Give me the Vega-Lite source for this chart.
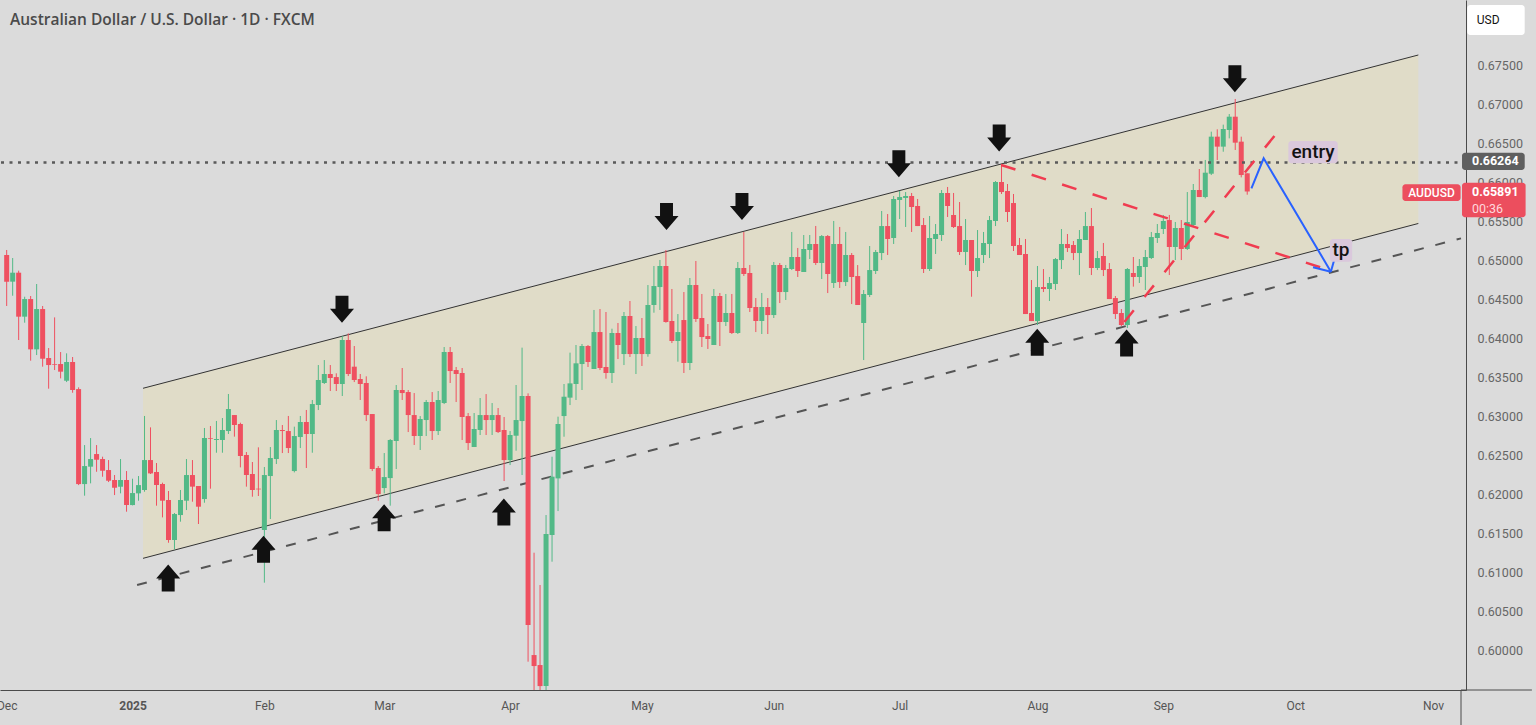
{
  "$schema": "https://vega.github.io/schema/vega-lite/v6.json",
  "width": 1466,
  "height": 690,
  "autosize": {"type": "none"},
  "padding": {"left": 0, "top": 0, "right": 70, "bottom": 35},
  "background": "#dbdbdb",
  "config": {"view": {"stroke": null}},
  "title": {"text": "Australian Dollar / U.S. Dollar · 1D · FXCM", "anchor": "start", "frame": "group", "orient": "top", "offset": -28, "dx": 10, "font": "Open Sans", "fontSize": 15.5, "fontWeight": 600, "color": "#4a4a4a"},
  "datasets": {
    "candles": [
      {"i":0,"o":0.65076,"h":0.65141,"l":0.64423,"c":0.64735},
      {"i":1,"o":0.64735,"h":0.65038,"l":0.64555,"c":0.64850},
      {"i":2,"o":0.64850,"h":0.64876,"l":0.63987,"c":0.64286},
      {"i":3,"o":0.64286,"h":0.64542,"l":0.64209,"c":0.64512},
      {"i":4,"o":0.64512,"h":0.64551,"l":0.63722,"c":0.63867},
      {"i":5,"o":0.63867,"h":0.64705,"l":0.63794,"c":0.64384},
      {"i":6,"o":0.64384,"h":0.64423,"l":0.63645,"c":0.63747},
      {"i":7,"o":0.63756,"h":0.63884,"l":0.63363,"c":0.63666},
      {"i":8,"o":0.63679,"h":0.64277,"l":0.63602,"c":0.63670},
      {"i":9,"o":0.63679,"h":0.63833,"l":0.63495,"c":0.63581},
      {"i":10,"o":0.63465,"h":0.63816,"l":0.63448,"c":0.63705},
      {"i":11,"o":0.63705,"h":0.63769,"l":0.63311,"c":0.63346},
      {"i":12,"o":0.63358,"h":0.63380,"l":0.62127,"c":0.62140},
      {"i":13,"o":0.62140,"h":0.62640,"l":0.61991,"c":0.62371},
      {"i":14,"o":0.62363,"h":0.62730,"l":0.62149,"c":0.62461},
      {"i":15,"o":0.62525,"h":0.62640,"l":0.62298,"c":0.62452},
      {"i":16,"o":0.62461,"h":0.62491,"l":0.62234,"c":0.62311},
      {"i":17,"o":0.62320,"h":0.62448,"l":0.62166,"c":0.62183},
      {"i":18,"o":0.62192,"h":0.62256,"l":0.61999,"c":0.62093},
      {"i":19,"o":0.62106,"h":0.62461,"l":0.62021,"c":0.62192},
      {"i":20,"o":0.62192,"h":0.62307,"l":0.61786,"c":0.61871},
      {"i":21,"o":0.61871,"h":0.62209,"l":0.61867,"c":0.62025},
      {"i":22,"o":0.62021,"h":0.62243,"l":0.61927,"c":0.62127},
      {"i":23,"o":0.62064,"h":0.63013,"l":0.62042,"c":0.62448},
      {"i":24,"o":0.62448,"h":0.62867,"l":0.62269,"c":0.62277},
      {"i":25,"o":0.62295,"h":0.62410,"l":0.61863,"c":0.62128},
      {"i":26,"o":0.62141,"h":0.62158,"l":0.61713,"c":0.61927},
      {"i":27,"o":0.61936,"h":0.62051,"l":0.61388,"c":0.61423},
      {"i":28,"o":0.61423,"h":0.61769,"l":0.61303,"c":0.61756},
      {"i":29,"o":0.61743,"h":0.62064,"l":0.61658,"c":0.61936},
      {"i":30,"o":0.61927,"h":0.62461,"l":0.61807,"c":0.62256},
      {"i":31,"o":0.62256,"h":0.62448,"l":0.61914,"c":0.62107},
      {"i":32,"o":0.62115,"h":0.62115,"l":0.61628,"c":0.61850},
      {"i":33,"o":0.61948,"h":0.62859,"l":0.61901,"c":0.62731},
      {"i":34,"o":0.62731,"h":0.62884,"l":0.62081,"c":0.62722},
      {"i":35,"o":0.62705,"h":0.62949,"l":0.62542,"c":0.62718},
      {"i":36,"o":0.62705,"h":0.62987,"l":0.62542,"c":0.62833},
      {"i":37,"o":0.62820,"h":0.63295,"l":0.62782,"c":0.63102},
      {"i":38,"o":0.63025,"h":0.63025,"l":0.62748,"c":0.62897},
      {"i":39,"o":0.62910,"h":0.62927,"l":0.62354,"c":0.62500},
      {"i":40,"o":0.62513,"h":0.62551,"l":0.62107,"c":0.62256},
      {"i":41,"o":0.62269,"h":0.62423,"l":0.61978,"c":0.62064},
      {"i":42,"o":0.62081,"h":0.62611,"l":0.61987,"c":0.62072},
      {"i":43,"o":0.61551,"h":0.62359,"l":0.60876,"c":0.62256},
      {"i":44,"o":0.62243,"h":0.62615,"l":0.61692,"c":0.62474},
      {"i":45,"o":0.62461,"h":0.62961,"l":0.62397,"c":0.62833},
      {"i":46,"o":0.62833,"h":0.62897,"l":0.62538,"c":0.62820},
      {"i":47,"o":0.62820,"h":0.63013,"l":0.62538,"c":0.62602},
      {"i":48,"o":0.62307,"h":0.62876,"l":0.62290,"c":0.62756},
      {"i":49,"o":0.62743,"h":0.63013,"l":0.62602,"c":0.62936},
      {"i":50,"o":0.62936,"h":0.63090,"l":0.62346,"c":0.62782},
      {"i":51,"o":0.62782,"h":0.63218,"l":0.62542,"c":0.63166},
      {"i":52,"o":0.63154,"h":0.63666,"l":0.63089,"c":0.63474},
      {"i":53,"o":0.63436,"h":0.63730,"l":0.63423,"c":0.63551},
      {"i":54,"o":0.63551,"h":0.63666,"l":0.63333,"c":0.63500},
      {"i":55,"o":0.63512,"h":0.63560,"l":0.63333,"c":0.63423},
      {"i":56,"o":0.63423,"h":0.64038,"l":0.63269,"c":0.63987},
      {"i":57,"o":0.63987,"h":0.64072,"l":0.63525,"c":0.63551},
      {"i":58,"o":0.63645,"h":0.63910,"l":0.63448,"c":0.63474},
      {"i":59,"o":0.63487,"h":0.63551,"l":0.63218,"c":0.63423},
      {"i":60,"o":0.63436,"h":0.63521,"l":0.62948,"c":0.63025},
      {"i":61,"o":0.63038,"h":0.63038,"l":0.62307,"c":0.62333},
      {"i":62,"o":0.62346,"h":0.62371,"l":0.61927,"c":0.62012},
      {"i":63,"o":0.62089,"h":0.62538,"l":0.62021,"c":0.62230},
      {"i":64,"o":0.62217,"h":0.62717,"l":0.61863,"c":0.62705},
      {"i":65,"o":0.62692,"h":0.63410,"l":0.62333,"c":0.63346},
      {"i":66,"o":0.63346,"h":0.63628,"l":0.63218,"c":0.63307},
      {"i":67,"o":0.63320,"h":0.63346,"l":0.62807,"c":0.63025},
      {"i":68,"o":0.63025,"h":0.63307,"l":0.62641,"c":0.62756},
      {"i":69,"o":0.62756,"h":0.63012,"l":0.62577,"c":0.62974},
      {"i":70,"o":0.62961,"h":0.63218,"l":0.62756,"c":0.63192},
      {"i":71,"o":0.63192,"h":0.63320,"l":0.62705,"c":0.62820},
      {"i":72,"o":0.62820,"h":0.63333,"l":0.62769,"c":0.63218},
      {"i":73,"o":0.63179,"h":0.63897,"l":0.63166,"c":0.63833},
      {"i":74,"o":0.63833,"h":0.63897,"l":0.63436,"c":0.63589},
      {"i":75,"o":0.63602,"h":0.63641,"l":0.63192,"c":0.63551},
      {"i":76,"o":0.63564,"h":0.63628,"l":0.62705,"c":0.63000},
      {"i":77,"o":0.63012,"h":0.63051,"l":0.62577,"c":0.62666},
      {"i":78,"o":0.62615,"h":0.63051,"l":0.62615,"c":0.62846},
      {"i":79,"o":0.62833,"h":0.63243,"l":0.62769,"c":0.63025},
      {"i":80,"o":0.63025,"h":0.63294,"l":0.62769,"c":0.62961},
      {"i":81,"o":0.62961,"h":0.63179,"l":0.62769,"c":0.63025},
      {"i":82,"o":0.63025,"h":0.63115,"l":0.62795,"c":0.62807},
      {"i":83,"o":0.62833,"h":0.63000,"l":0.62179,"c":0.62448},
      {"i":84,"o":0.62448,"h":0.62820,"l":0.62384,"c":0.62769},
      {"i":85,"o":0.62760,"h":0.63410,"l":0.62568,"c":0.62961},
      {"i":86,"o":0.62948,"h":0.63889,"l":0.62256,"c":0.63269},
      {"i":87,"o":0.63269,"h":0.63303,"l":0.59863,"c":0.60333},
      {"i":88,"o":0.59948,"h":0.61260,"l":0.59300,"c":0.59807},
      {"i":89,"o":0.59820,"h":0.60846,"l":0.59140,"c":0.59550},
      {"i":90,"o":0.59550,"h":0.61743,"l":0.59250,"c":0.61499},
      {"i":91,"o":0.61487,"h":0.62491,"l":0.61145,"c":0.62235},
      {"i":92,"o":0.62213,"h":0.63004,"l":0.61794,"c":0.62910},
      {"i":93,"o":0.63012,"h":0.63423,"l":0.62747,"c":0.63260},
      {"i":94,"o":0.63248,"h":0.63825,"l":0.63153,"c":0.63431},
      {"i":95,"o":0.63423,"h":0.63923,"l":0.63218,"c":0.63688},
      {"i":96,"o":0.63679,"h":0.63936,"l":0.63346,"c":0.63910},
      {"i":97,"o":0.63910,"h":0.63923,"l":0.63641,"c":0.63705},
      {"i":98,"o":0.63615,"h":0.64372,"l":0.63615,"c":0.64089},
      {"i":99,"o":0.64089,"h":0.64384,"l":0.63602,"c":0.63628},
      {"i":100,"o":0.63641,"h":0.64346,"l":0.63491,"c":0.63564},
      {"i":101,"o":0.63564,"h":0.64132,"l":0.63436,"c":0.64077},
      {"i":102,"o":0.64077,"h":0.64205,"l":0.63743,"c":0.63923},
      {"i":103,"o":0.63807,"h":0.64346,"l":0.63666,"c":0.64295},
      {"i":104,"o":0.64295,"h":0.64487,"l":0.63769,"c":0.63807},
      {"i":105,"o":0.63807,"h":0.64166,"l":0.63551,"c":0.64013},
      {"i":106,"o":0.64013,"h":0.64269,"l":0.63654,"c":0.63807},
      {"i":107,"o":0.63807,"h":0.64692,"l":0.63773,"c":0.64436},
      {"i":108,"o":0.64436,"h":0.64936,"l":0.64337,"c":0.64679},
      {"i":109,"o":0.64666,"h":0.65013,"l":0.64372,"c":0.64936},
      {"i":110,"o":0.64936,"h":0.65141,"l":0.64209,"c":0.64218},
      {"i":111,"o":0.64231,"h":0.64641,"l":0.63948,"c":0.63974},
      {"i":112,"o":0.63974,"h":0.64320,"l":0.63709,"c":0.64089},
      {"i":113,"o":0.64243,"h":0.64602,"l":0.63564,"c":0.63692},
      {"i":114,"o":0.63692,"h":0.64782,"l":0.63602,"c":0.64692},
      {"i":115,"o":0.64692,"h":0.65000,"l":0.64218,"c":0.64256},
      {"i":116,"o":0.64269,"h":0.64577,"l":0.63897,"c":0.64025},
      {"i":117,"o":0.64038,"h":0.64192,"l":0.63872,"c":0.64000},
      {"i":118,"o":0.63923,"h":0.64641,"l":0.63923,"c":0.64551},
      {"i":119,"o":0.64551,"h":0.64590,"l":0.63910,"c":0.64218},
      {"i":120,"o":0.64218,"h":0.64577,"l":0.64166,"c":0.64333},
      {"i":121,"o":0.64333,"h":0.64577,"l":0.64064,"c":0.64077},
      {"i":122,"o":0.64077,"h":0.64987,"l":0.64064,"c":0.64910},
      {"i":123,"o":0.64910,"h":0.65372,"l":0.64808,"c":0.64833},
      {"i":124,"o":0.64846,"h":0.64949,"l":0.64346,"c":0.64397},
      {"i":125,"o":0.64410,"h":0.64525,"l":0.64089,"c":0.64231},
      {"i":126,"o":0.64231,"h":0.64590,"l":0.64064,"c":0.64410},
      {"i":127,"o":0.64410,"h":0.64525,"l":0.64064,"c":0.64307},
      {"i":128,"o":0.64307,"h":0.64987,"l":0.64269,"c":0.64949},
      {"i":129,"o":0.64949,"h":0.64974,"l":0.64461,"c":0.64602},
      {"i":130,"o":0.64602,"h":0.64949,"l":0.64500,"c":0.64910},
      {"i":131,"o":0.64897,"h":0.65372,"l":0.64884,"c":0.65051},
      {"i":132,"o":0.65051,"h":0.65167,"l":0.64795,"c":0.64872},
      {"i":133,"o":0.64859,"h":0.65333,"l":0.64859,"c":0.65154},
      {"i":134,"o":0.65141,"h":0.65333,"l":0.65025,"c":0.65218},
      {"i":135,"o":0.65218,"h":0.65449,"l":0.64949,"c":0.64974},
      {"i":136,"o":0.64974,"h":0.65333,"l":0.64769,"c":0.65320},
      {"i":137,"o":0.65320,"h":0.65333,"l":0.64589,"c":0.64833},
      {"i":138,"o":0.64718,"h":0.65513,"l":0.64654,"c":0.65218},
      {"i":139,"o":0.65218,"h":0.65436,"l":0.64654,"c":0.64730},
      {"i":140,"o":0.64730,"h":0.65372,"l":0.64679,"c":0.65077},
      {"i":141,"o":0.65077,"h":0.65102,"l":0.64448,"c":0.64795},
      {"i":142,"o":0.64807,"h":0.64948,"l":0.64436,"c":0.64436},
      {"i":143,"o":0.64205,"h":0.64628,"l":0.63730,"c":0.64577},
      {"i":144,"o":0.64564,"h":0.65192,"l":0.64538,"c":0.64884},
      {"i":145,"o":0.64872,"h":0.65141,"l":0.64833,"c":0.65115},
      {"i":146,"o":0.65102,"h":0.65641,"l":0.65012,"c":0.65448},
      {"i":147,"o":0.65448,"h":0.65602,"l":0.65077,"c":0.65282},
      {"i":148,"o":0.65295,"h":0.65833,"l":0.65218,"c":0.65795},
      {"i":149,"o":0.65782,"h":0.65897,"l":0.65538,"c":0.65820},
      {"i":150,"o":0.65808,"h":0.65884,"l":0.65436,"c":0.65833},
      {"i":151,"o":0.65833,"h":0.65872,"l":0.65372,"c":0.65692},
      {"i":152,"o":0.65705,"h":0.65795,"l":0.65448,"c":0.65448},
      {"i":153,"o":0.65461,"h":0.65551,"l":0.64846,"c":0.64897},
      {"i":154,"o":0.64897,"h":0.65577,"l":0.64872,"c":0.65295},
      {"i":155,"o":0.65282,"h":0.65474,"l":0.65090,"c":0.65346},
      {"i":156,"o":0.65333,"h":0.65910,"l":0.65256,"c":0.65872},
      {"i":157,"o":0.65872,"h":0.65949,"l":0.65564,"c":0.65705},
      {"i":158,"o":0.65590,"h":0.65872,"l":0.65423,"c":0.65436},
      {"i":159,"o":0.65448,"h":0.65756,"l":0.65077,"c":0.65115},
      {"i":160,"o":0.65115,"h":0.65538,"l":0.64948,"c":0.65269},
      {"i":161,"o":0.65269,"h":0.65269,"l":0.64542,"c":0.64872},
      {"i":162,"o":0.64872,"h":0.65397,"l":0.64795,"c":0.65038},
      {"i":163,"o":0.65077,"h":0.65372,"l":0.64974,"c":0.65231},
      {"i":164,"o":0.65218,"h":0.65577,"l":0.65038,"c":0.65525},
      {"i":165,"o":0.65513,"h":0.66025,"l":0.65448,"c":0.66013},
      {"i":166,"o":0.66013,"h":0.66243,"l":0.65859,"c":0.65884},
      {"i":167,"o":0.65897,"h":0.65987,"l":0.65500,"c":0.65628},
      {"i":168,"o":0.65743,"h":0.65859,"l":0.65128,"c":0.65192},
      {"i":169,"o":0.65205,"h":0.65295,"l":0.65077,"c":0.65077},
      {"i":170,"o":0.65090,"h":0.65282,"l":0.64320,"c":0.64320},
      {"i":171,"o":0.64333,"h":0.64756,"l":0.64230,"c":0.64230},
      {"i":172,"o":0.64230,"h":0.64936,"l":0.64179,"c":0.64666},
      {"i":173,"o":0.64666,"h":0.64897,"l":0.64602,"c":0.64641},
      {"i":174,"o":0.64641,"h":0.64795,"l":0.64487,"c":0.64718},
      {"i":175,"o":0.64705,"h":0.65038,"l":0.64628,"c":0.65025},
      {"i":176,"o":0.65012,"h":0.65410,"l":0.64897,"c":0.65218},
      {"i":177,"o":0.65218,"h":0.65346,"l":0.65115,"c":0.65166},
      {"i":178,"o":0.65205,"h":0.65256,"l":0.65012,"c":0.65102},
      {"i":179,"o":0.65102,"h":0.65397,"l":0.64820,"c":0.65282},
      {"i":180,"o":0.65269,"h":0.65628,"l":0.65269,"c":0.65448},
      {"i":181,"o":0.65448,"h":0.65679,"l":0.64820,"c":0.64910},
      {"i":182,"o":0.64910,"h":0.65128,"l":0.64884,"c":0.65038},
      {"i":183,"o":0.65064,"h":0.65231,"l":0.64807,"c":0.64884},
      {"i":184,"o":0.64897,"h":0.64974,"l":0.64512,"c":0.64512},
      {"i":185,"o":0.64525,"h":0.64551,"l":0.64256,"c":0.64320},
      {"i":186,"o":0.64333,"h":0.64384,"l":0.64166,"c":0.64179},
      {"i":187,"o":0.64179,"h":0.64910,"l":0.64141,"c":0.64897},
      {"i":188,"o":0.64846,"h":0.65051,"l":0.64671,"c":0.64795},
      {"i":189,"o":0.64795,"h":0.65025,"l":0.64718,"c":0.64936},
      {"i":190,"o":0.64923,"h":0.65141,"l":0.64628,"c":0.65051},
      {"i":191,"o":0.65038,"h":0.65372,"l":0.65025,"c":0.65307},
      {"i":192,"o":0.65295,"h":0.65474,"l":0.65231,"c":0.65359},
      {"i":193,"o":0.65410,"h":0.65590,"l":0.65346,"c":0.65513},
      {"i":194,"o":0.65525,"h":0.65590,"l":0.64820,"c":0.65179},
      {"i":195,"o":0.65179,"h":0.65500,"l":0.65012,"c":0.65423},
      {"i":196,"o":0.65423,"h":0.65525,"l":0.65012,"c":0.65154},
      {"i":197,"o":0.65154,"h":0.65884,"l":0.65141,"c":0.65500},
      {"i":198,"o":0.65461,"h":0.65987,"l":0.65448,"c":0.65910},
      {"i":199,"o":0.65910,"h":0.66179,"l":0.65820,"c":0.65820},
      {"i":200,"o":0.65820,"h":0.66295,"l":0.65803,"c":0.66132},
      {"i":201,"o":0.66119,"h":0.66658,"l":0.66102,"c":0.66594},
      {"i":202,"o":0.66594,"h":0.66688,"l":0.66295,"c":0.66466},
      {"i":203,"o":0.66466,"h":0.66748,"l":0.66401,"c":0.66692},
      {"i":204,"o":0.66679,"h":0.66884,"l":0.66572,"c":0.66850},
      {"i":205,"o":0.66850,"h":0.67077,"l":0.66423,"c":0.66517},
      {"i":206,"o":0.66530,"h":0.66594,"l":0.66072,"c":0.66102},
      {"i":207,"o":0.66124,"h":0.66124,"l":0.65850,"c":0.65891}
    ],
    "channel": [
      {"i":22.75,"lo":0.61188,"hi":0.63368},
      {"i":235.55,"lo":0.65481,"hi":0.67641}
    ],
    "support": [
      {"i":21.76,"p":0.60846},
      {"i":242.67,"p":0.65290}
    ],
    "levels": [{"p":0.66264}],
    "trend": [
      {"g":"fall","i":165.94,"p":0.66231},
      {"g":"fall","i":220.63,"p":0.64884},
      {"g":"rise","i":186.5,"p":0.64218},
      {"g":"rise","i":212.2,"p":0.66667}
    ],
    "plan": [
      {"k":0,"i":207.7,"p":0.65932},
      {"k":1,"i":209.74,"p":0.66317},
      {"k":2,"i":220.96,"p":0.64863}
    ],
    "planHead": [
      {"i":220.96,"p":0.64863,"i2":217.98,"p2":0.64919},
      {"i":220.96,"p":0.64863,"i2":221.79,"p2":0.65090}
    ],
    "pivots": [
      {"dir":"up","i":26.95,"p":0.60936},
      {"dir":"up","i":42.86,"p":0.61305},
      {"dir":"up","i":62.98,"p":0.61708},
      {"dir":"up","i":82.96,"p":0.61782},
      {"dir":"up","i":171.96,"p":0.63959},
      {"dir":"up","i":186.87,"p":0.63949},
      {"dir":"down","i":55.95,"p":0.64382},
      {"dir":"down","i":110.1,"p":0.65570},
      {"dir":"down","i":122.69,"p":0.65699},
      {"dir":"down","i":148.87,"p":0.66246},
      {"dir":"down","i":165.61,"p":0.66577},
      {"dir":"down","i":204.94,"p":0.67336}
    ],
    "boxes": [
      {"kind":"note","i":213.86,"i2":222.1,"p":0.66538,"p2":0.66252},
      {"kind":"note","i":220.8,"i2":224.5,"p":0.65282,"p2":0.64991},
      {"kind":"symbol","i":232.9,"i2":242.6,"p":0.65983,"p2":0.65770},
      {"kind":"last","i":242.84,"i2":253.45,"p":0.66004,"p2":0.65560},
      {"kind":"level","i":242.84,"i2":253.3,"p":0.66389,"p2":0.66167},
      {"kind":"unit","i":243.7,"i2":253.3,"p":0.68282,"p2":0.67897}
    ],
    "notes": [
      {"t":"entry","i":217.98,"p":0.66395},
      {"t":"tp","i":222.65,"p":0.65137}
    ],
    "priceTags": [
      {"t":"0.66264","i":244.5,"p":0.66278},
      {"t":"0.65891","i":244.5,"p":0.65880}
    ],
    "timer": [{"t":"00:36","i":244.5,"p":0.65672}],
    "symbol": [{"t":"AUDUSD","i":237.75,"p":0.65876}],
    "unit": [{"t":"USD","i":245.3,"p":0.68090}],
    "frame": [
      {"i":242.67,"p":0.595,"i2":242.67,"p2":0.5905},
      {"i":242.67,"p":0.595,"i2":254.5,"p2":0.595}
    ]
  },
  "layer": [
    {
      "data": {"name": "channel"},
      "mark": {"type": "area", "color": "#e0dcc8", "opacity": 1},
      "encoding": {
        "x": {"field": "i", "type": "quantitative", "scale": {"domain": [-0.28, 242.67], "nice": false, "zero": false},
          "axis": {"orient": "bottom", "title": null, "grid": false, "ticks": false, "tickSize": 0, "domainColor": "#4a4a4a", "domainWidth": 1,
            "values": [0, 21, 43, 63, 84, 106, 128, 149, 172, 193, 215, 238],
            "labelExpr": "['Dec','2025','Feb','Mar','Apr','May','Jun','Jul','Aug','Sep','Oct','Nov'][indexof([0,21,43,63,84,106,128,149,172,193,215,238], datum.value)]",
            "labelFont": "Roboto", "labelFontSize": 12, "labelColor": "#555555", "labelPadding": 10, "labelBound": false, "labelFlush": false, "labelOverlap": false,
            "labelFontWeight": {"condition": {"test": "datum.value == 21", "value": "bold"}, "value": "normal"}}},
        "y": {"field": "lo", "type": "quantitative", "scale": {"domain": [0.595, 0.68346], "nice": false, "zero": false},
          "axis": {"orient": "right", "title": null, "grid": false, "ticks": false, "tickSize": 0, "domainColor": "#4a4a4a", "domainWidth": 1,
            "values": [0.6, 0.605, 0.61, 0.615, 0.62, 0.625, 0.63, 0.635, 0.64, 0.645, 0.65, 0.655, 0.66, 0.665, 0.67, 0.675],
            "format": ".5f", "labelFont": "Roboto", "labelFontSize": 12.5, "labelColor": "#666666", "labelPadding": 11, "labelBaseline": "middle"}},
        "y2": {"field": "hi"}
      }
    },
    {
      "data": {"name": "channel"},
      "mark": {"type": "line", "color": "#333333", "strokeWidth": 1},
      "encoding": {
        "x": {"field": "i", "type": "quantitative", "scale": {"domain": [-0.28, 242.67], "nice": false, "zero": false}},
        "y": {"field": "hi", "type": "quantitative", "scale": {"domain": [0.595, 0.68346], "nice": false, "zero": false}}
      }
    },
    {
      "data": {"name": "channel"},
      "mark": {"type": "line", "color": "#333333", "strokeWidth": 1},
      "encoding": {
        "x": {"field": "i", "type": "quantitative", "scale": {"domain": [-0.28, 242.67], "nice": false, "zero": false}},
        "y": {"field": "lo", "type": "quantitative", "scale": {"domain": [0.595, 0.68346], "nice": false, "zero": false}}
      }
    },
    {
      "data": {"name": "support"},
      "mark": {"type": "line", "color": "#555555", "strokeWidth": 2, "strokeDash": [10, 12], "clip": true},
      "encoding": {
        "x": {"field": "i", "type": "quantitative", "scale": {"domain": [-0.28, 242.67], "nice": false, "zero": false}},
        "y": {"field": "p", "type": "quantitative", "scale": {"domain": [0.595, 0.68346], "nice": false, "zero": false}}
      }
    },
    {
      "data": {"name": "candles"},
      "mark": {"type": "rule", "strokeWidth": 1, "clip": true},
      "encoding": {
        "x": {"field": "i", "type": "quantitative", "scale": {"domain": [-0.28, 242.67], "nice": false, "zero": false}},
        "y": {"field": "l", "type": "quantitative", "scale": {"domain": [0.595, 0.68346], "nice": false, "zero": false}},
        "y2": {"field": "h"},
        "color": {"condition": {"test": "datum.c >= datum.o", "value": "#52b987"}, "value": "#ef5060"}
      }
    },
    {
      "data": {"name": "candles"},
      "mark": {"type": "bar", "size": 5, "clip": true},
      "encoding": {
        "x": {"field": "i", "type": "quantitative", "scale": {"domain": [-0.28, 242.67], "nice": false, "zero": false}},
        "y": {"field": "o", "type": "quantitative", "scale": {"domain": [0.595, 0.68346], "nice": false, "zero": false}},
        "y2": {"field": "c"},
        "color": {"condition": {"test": "datum.c >= datum.o", "value": "#52b987"}, "value": "#ef5060"}
      }
    },
    {
      "data": {"name": "levels"},
      "mark": {"type": "rule", "color": "#5a5a5a", "strokeWidth": 2.5, "strokeDash": [3, 5.5]},
      "encoding": {
        "y": {"field": "p", "type": "quantitative", "scale": {"domain": [0.595, 0.68346], "nice": false, "zero": false}}
      }
    },
    {
      "data": {"name": "trend"},
      "mark": {"type": "line", "color": "#f03c50", "strokeWidth": 2.5, "strokeDash": [15, 17]},
      "encoding": {
        "x": {"field": "i", "type": "quantitative", "scale": {"domain": [-0.28, 242.67], "nice": false, "zero": false}},
        "y": {"field": "p", "type": "quantitative", "scale": {"domain": [0.595, 0.68346], "nice": false, "zero": false}},
        "detail": {"field": "g"}
      }
    },
    {
      "data": {"name": "plan"},
      "mark": {"type": "line", "color": "#2962ff", "strokeWidth": 2},
      "encoding": {
        "x": {"field": "i", "type": "quantitative", "scale": {"domain": [-0.28, 242.67], "nice": false, "zero": false}},
        "y": {"field": "p", "type": "quantitative", "scale": {"domain": [0.595, 0.68346], "nice": false, "zero": false}},
        "order": {"field": "k"}
      }
    },
    {
      "data": {"name": "planHead"},
      "mark": {"type": "rule", "color": "#2962ff", "strokeWidth": 2},
      "encoding": {
        "x": {"field": "i", "type": "quantitative", "scale": {"domain": [-0.28, 242.67], "nice": false, "zero": false}},
        "y": {"field": "p", "type": "quantitative", "scale": {"domain": [0.595, 0.68346], "nice": false, "zero": false}},
        "x2": {"field": "i2"},
        "y2": {"field": "p2"}
      }
    },
    {
      "data": {"name": "pivots"},
      "mark": {"type": "point", "filled": true, "opacity": 1, "size": 729, "color": "#111111", "strokeWidth": 0},
      "encoding": {
        "x": {"field": "i", "type": "quantitative", "scale": {"domain": [-0.28, 242.67], "nice": false, "zero": false}},
        "y": {"field": "p", "type": "quantitative", "scale": {"domain": [0.595, 0.68346], "nice": false, "zero": false}},
        "shape": {"field": "dir", "type": "nominal", "legend": null,
          "scale": {"domain": ["up", "down"], "range": [
            "M0,-1L0.89,0.04L0.48,0.04L0.48,1L-0.48,1L-0.48,0.04L-0.89,0.04Z",
            "M0,1L0.89,-0.04L0.48,-0.04L0.48,-1L-0.48,-1L-0.48,-0.04L-0.89,-0.04Z"]}}
      }
    },
    {
      "data": {"name": "boxes"},
      "mark": {"type": "rect", "cornerRadius": 3},
      "encoding": {
        "x": {"field": "i", "type": "quantitative", "scale": {"domain": [-0.28, 242.67], "nice": false, "zero": false}},
        "x2": {"field": "i2"},
        "y": {"field": "p", "type": "quantitative", "scale": {"domain": [0.595, 0.68346], "nice": false, "zero": false}},
        "y2": {"field": "p2"},
        "fill": {"field": "kind", "type": "nominal", "legend": null,
          "scale": {"domain": ["note", "symbol", "last", "level", "unit"], "range": ["#dac8dc", "#ec4e5e", "#ec4e5e", "#5f5f5f", "#ffffff"]}}
      }
    },
    {
      "data": {"name": "notes"},
      "mark": {"type": "text", "font": "Roboto", "fontSize": 19, "fontWeight": 500, "color": "#131313", "align": "center", "baseline": "middle"},
      "encoding": {
        "x": {"field": "i", "type": "quantitative", "scale": {"domain": [-0.28, 242.67], "nice": false, "zero": false}},
        "y": {"field": "p", "type": "quantitative", "scale": {"domain": [0.595, 0.68346], "nice": false, "zero": false}},
        "text": {"field": "t"}
      }
    },
    {
      "data": {"name": "priceTags"},
      "mark": {"type": "text", "font": "Roboto", "fontSize": 12.5, "fontWeight": "bold", "color": "#ffffff", "align": "left", "baseline": "middle"},
      "encoding": {
        "x": {"field": "i", "type": "quantitative", "scale": {"domain": [-0.28, 242.67], "nice": false, "zero": false}},
        "y": {"field": "p", "type": "quantitative", "scale": {"domain": [0.595, 0.68346], "nice": false, "zero": false}},
        "text": {"field": "t"}
      }
    },
    {
      "data": {"name": "timer"},
      "mark": {"type": "text", "font": "Roboto", "fontSize": 12.5, "color": "#ffd8dc", "align": "left", "baseline": "middle"},
      "encoding": {
        "x": {"field": "i", "type": "quantitative", "scale": {"domain": [-0.28, 242.67], "nice": false, "zero": false}},
        "y": {"field": "p", "type": "quantitative", "scale": {"domain": [0.595, 0.68346], "nice": false, "zero": false}},
        "text": {"field": "t"}
      }
    },
    {
      "data": {"name": "symbol"},
      "mark": {"type": "text", "font": "Roboto", "fontSize": 12, "fontWeight": 500, "color": "#ffffff", "align": "center", "baseline": "middle"},
      "encoding": {
        "x": {"field": "i", "type": "quantitative", "scale": {"domain": [-0.28, 242.67], "nice": false, "zero": false}},
        "y": {"field": "p", "type": "quantitative", "scale": {"domain": [0.595, 0.68346], "nice": false, "zero": false}},
        "text": {"field": "t"}
      }
    },
    {
      "data": {"name": "unit"},
      "mark": {"type": "text", "font": "Roboto", "fontSize": 12, "color": "#131313", "align": "left", "baseline": "middle"},
      "encoding": {
        "x": {"field": "i", "type": "quantitative", "scale": {"domain": [-0.28, 242.67], "nice": false, "zero": false}},
        "y": {"field": "p", "type": "quantitative", "scale": {"domain": [0.595, 0.68346], "nice": false, "zero": false}},
        "text": {"field": "t"}
      }
    },
    {
      "data": {"name": "frame"},
      "mark": {"type": "rule", "color": "#4a4a4a", "strokeWidth": 1},
      "encoding": {
        "x": {"field": "i", "type": "quantitative", "scale": {"domain": [-0.28, 242.67], "nice": false, "zero": false}},
        "y": {"field": "p", "type": "quantitative", "scale": {"domain": [0.595, 0.68346], "nice": false, "zero": false}},
        "x2": {"field": "i2"},
        "y2": {"field": "p2"}
      }
    }
  ]
}
